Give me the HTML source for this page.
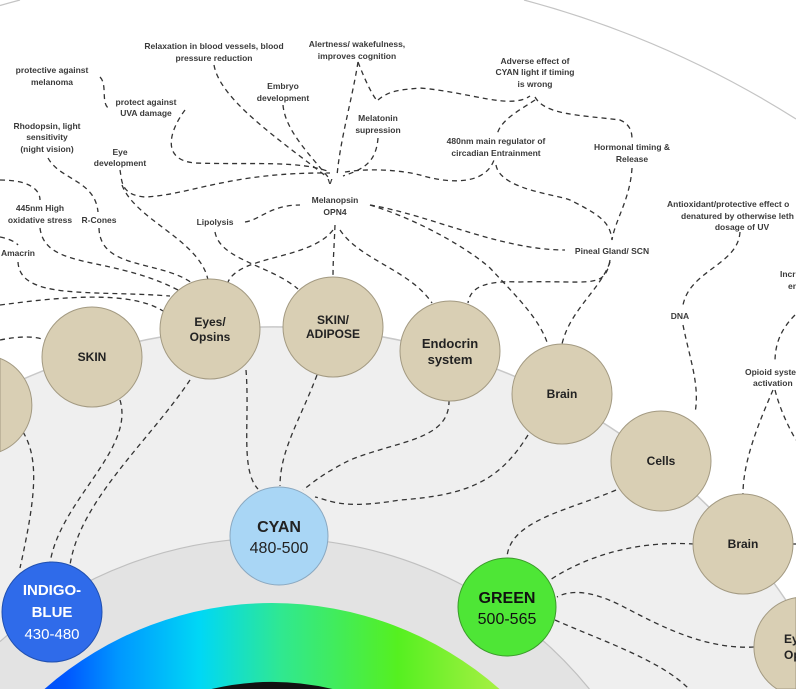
<!DOCTYPE html>
<html><head><meta charset="utf-8"><style>
html,body{margin:0;padding:0;background:#fff;width:796px;height:689px;overflow:hidden;}
svg{display:block;}
text{font-family:"Liberation Sans",sans-serif;}
.l{font-size:8.5px;font-weight:bold;fill:#3a3a3a;text-anchor:middle;}
.n{font-size:12px;font-weight:bold;fill:#222;text-anchor:middle;}
.d{fill:none;stroke:#333;stroke-width:1.3;stroke-dasharray:5 4;}
.nd{fill:#d9cfb4;stroke:#a39a82;stroke-width:1;}
</style></head><body>
<svg width="796" height="689" viewBox="0 0 796 689" xmlns="http://www.w3.org/2000/svg" style="overflow:hidden">
<defs>
<linearGradient id="wg" gradientUnits="userSpaceOnUse" x1="-20" y1="0" x2="560" y2="0">
<stop offset="0" stop-color="#0030e0"/>
<stop offset="0.15" stop-color="#0058ff"/>
<stop offset="0.24" stop-color="#0098ff"/>
<stop offset="0.38" stop-color="#00d8f5"/>
<stop offset="0.52" stop-color="#30e890"/>
<stop offset="0.72" stop-color="#55f020"/>
<stop offset="0.88" stop-color="#a0f040"/>
<stop offset="1" stop-color="#c0f050"/>
</linearGradient>
</defs>
<path d="M0 5.5 A980 980 0 0 1 20 0 M524 0 A980 980 0 0 1 796 119" fill="none" stroke="#c4c4c4" stroke-width="1.2"/>
<path d="M0 689 L0 389.8 A620 620 0 0 1 796 615.6 L796 689 Z" fill="#efefef"/>
<path d="M0 389.8 A620 620 0 0 1 796 615.6" fill="none" stroke="#c8c8c8" stroke-width="1.5"/>
<path d="M0 689 L0 641.6 A409 409 0 0 1 589.4 689 Z" fill="#e3e3e3"/>
<path d="M0 641.6 A409 409 0 0 1 589.4 689" fill="none" stroke="#c0c0c0" stroke-width="1.2"/>
<path d="M44.5 689 A344 344 0 0 1 499.5 689 Z" fill="url(#wg)"/>
<path d="M211.5 689 A265 265 0 0 1 332.5 689 Z" fill="#111"/>

<g class="d">
<path d="M214 65 C220 100 280 140 327 177"/>
<path d="M283 105 C285 130 310 155 328 177"/>
<path d="M358 62 C352 100 340 140 337 176"/>
<path d="M358 62 C365 80 372 95 378 102"/>
<path d="M378 138 C376 165 360 170 343 176"/>
<path d="M378 100 C390 90 400 90 420 88 C470 92 510 110 530 96"/>
<path d="M185 110 C170 130 160 160 195 163 C250 165 300 160 330 172"/>
<path d="M100 77 C108 85 100 105 110 109"/>
<path d="M120 170 C122 180 120 195 145 197 C190 195 230 172 330 173"/>
<path d="M345 172 C370 168 400 170 420 175 C450 184 485 185 494 160"/>
<path d="M535 100 C520 110 500 120 497 135"/>
<path d="M535 97 C545 115 580 115 620 120 C632 125 632 135 632 140"/>
<path d="M496 165 C500 190 560 195 570 200 C600 215 610 222 612 240"/>
<path d="M632 168 C630 200 615 220 612 240"/>
<path d="M370 205 C430 215 500 250 565 250"/>
<path d="M370 205 C420 220 470 250 490 268 C520 300 540 320 548 345"/>
<path d="M610 260 C605 290 590 280 520 282 C480 280 470 290 468 303"/>
<path d="M610 262 C600 290 570 310 562 344"/>
<path d="M335 225 C334 250 333 260 333 277"/>
<path d="M333 230 C310 260 240 255 228 282"/>
<path d="M340 230 C360 260 410 270 432 303"/>
<path d="M245 222 C260 220 270 205 300 205"/>
<path d="M215 232 C220 260 270 265 298 289"/>
<path d="M122 185 C135 220 200 240 208 280"/>
<path d="M48 158 C60 180 95 180 98 212"/>
<path d="M99 228 C100 270 160 260 192 283"/>
<path d="M40 228 C45 270 110 255 178 290"/>
<path d="M18 262 C20 300 90 290 170 296"/>
<path d="M0 180 C30 180 40 190 40 200"/>
<path d="M0 237 C15 240 18 245 18 245"/>
<path d="M0 305 C60 297 130 290 163 311"/>
<path d="M0 340 C20 336 35 336 45 340"/>
<path d="M740 232 C738 265 690 270 683 305"/>
<path d="M683 325 C690 360 700 385 695 413"/>
<path d="M795 315 C780 330 775 345 775 362"/>
<path d="M773 390 C760 420 743 460 743 494"/>
<path d="M775 390 C780 410 790 430 796 440"/>
<path d="M23 432 C40 460 35 500 20 568"/>
<path d="M120 400 C135 450 60 500 50 563"/>
<path d="M190 380 C150 440 80 500 70 565"/>
<path d="M246 370 C250 420 240 470 258 489"/>
<path d="M317 375 C300 420 280 450 280 486"/>
<path d="M449 400 C450 440 400 440 350 460 C320 475 310 485 303 490"/>
<path d="M528 435 C500 480 470 495 400 500 C340 510 330 500 315 497"/>
<path d="M616 490 C570 510 510 520 507 557"/>
<path d="M694 544 C630 540 580 560 550 580"/>
<path d="M754 647 C700 650 650 620 620 605 C590 590 570 590 557 597"/>
<path d="M555 620 C600 640 660 660 688 688"/>
<path d="M792 544 L796 544"/>
</g>
<text x="330" y="184" class="l" style="font-size:9px">v</text>

<path d="M0 358.4 A50 50 0 0 1 0 451.6 Z" class="nd"/>
<circle cx="92" cy="357" r="50" class="nd"/>
<circle cx="210" cy="329" r="50" class="nd"/>
<circle cx="333" cy="327" r="50" class="nd"/>
<circle cx="450" cy="351" r="50" class="nd"/>
<circle cx="562" cy="394" r="50" class="nd"/>
<circle cx="661" cy="461" r="50" class="nd"/>
<circle cx="743" cy="544" r="50" class="nd"/>
<path d="M796 597.6 A50 50 0 0 0 776.9 689 L796 689 Z" class="nd"/>
<text class="n" x="92" y="361">SKIN</text>
<text class="n" x="210" y="326">Eyes/</text><text class="n" x="210" y="341">Opsins</text>
<text class="n" x="333" y="324">SKIN/</text><text class="n" x="333" y="338">ADIPOSE</text>
<text class="n" x="450" y="348" style="font-size:13px">Endocrin</text><text class="n" x="450" y="364" style="font-size:13px">system</text>
<text class="n" x="562" y="398">Brain</text>
<text class="n" x="661" y="465">Cells</text>
<text class="n" x="743" y="548">Brain</text>
<text class="n" x="784" y="643" style="text-anchor:start">Ey</text><text class="n" x="784" y="659" style="text-anchor:start">Op</text>

<circle cx="52" cy="612" r="50" fill="#2f6bea" stroke="#2050b0"/>
<text x="52" y="595" style="font-size:15px;font-weight:bold;fill:#fff;text-anchor:middle">INDIGO-</text>
<text x="52" y="617" style="font-size:15px;font-weight:bold;fill:#fff;text-anchor:middle">BLUE</text>
<text x="52" y="639" style="font-size:15px;fill:#fff;text-anchor:middle">430-480</text>
<circle cx="279" cy="536" r="49" fill="#a9d6f5" stroke="#8aa8c0"/>
<text x="279" y="532" style="font-size:16px;font-weight:bold;fill:#222;text-anchor:middle">CYAN</text>
<text x="279" y="553" style="font-size:16px;fill:#222;text-anchor:middle">480-500</text>
<circle cx="507" cy="607" r="49" fill="#4ee636" stroke="#3a9a2a"/>
<text x="507" y="603" style="font-size:16px;font-weight:bold;fill:#111;text-anchor:middle">GREEN</text>
<text x="507" y="624" style="font-size:16px;fill:#111;text-anchor:middle">500-565</text>

<text class="l" x="214" y="49">Relaxation in blood vessels, blood</text><text class="l" x="214" y="61">pressure reduction</text>
<text class="l" x="357" y="47">Alertness/ wakefulness,</text><text class="l" x="357" y="59">improves cognition</text>
<text class="l" x="52" y="73">protective against</text><text class="l" x="52" y="85">melanoma</text>
<text class="l" x="146" y="105">protect against</text><text class="l" x="146" y="116">UVA damage</text>
<text class="l" x="283" y="89">Embryo</text><text class="l" x="283" y="101">development</text>
<text class="l" x="378" y="121">Melatonin</text><text class="l" x="378" y="133">supression</text>
<text class="l" x="47" y="129">Rhodopsin, light</text><text class="l" x="47" y="140">sensitivity</text><text class="l" x="47" y="152">(night vision)</text>
<text class="l" x="120" y="155">Eye</text><text class="l" x="120" y="166">development</text>
<text class="l" x="40" y="211">445nm High</text><text class="l" x="40" y="223">oxidative stress</text>
<text class="l" x="99" y="223">R-Cones</text>
<text class="l" x="215" y="225">Lipolysis</text>
<text class="l" x="335" y="203">Melanopsin</text><text class="l" x="335" y="215">OPN4</text>
<text class="l" x="18" y="256">Amacrin</text>
<text class="l" x="535" y="64">Adverse effect of</text><text class="l" x="535" y="75">CYAN light if timing</text><text class="l" x="535" y="87">is wrong</text>
<text class="l" x="496" y="144">480nm main regulator of</text><text class="l" x="496" y="156">circadian Entrainment</text>
<text class="l" x="632" y="150">Hormonal timing &amp;</text><text class="l" x="632" y="162">Release</text>
<text class="l" x="612" y="254">Pineal Gland/ SCN</text>
<text class="l" x="667" y="207" style="text-anchor:start">Antioxidant/protective effect o</text>
<text class="l" x="681" y="219" style="text-anchor:start">denatured by otherwise leth</text>
<text class="l" x="742" y="230">dosage of UV</text>
<text class="l" x="680" y="319">DNA</text>
<text class="l" x="780" y="277" style="text-anchor:start">Incr</text><text class="l" x="788" y="289" style="text-anchor:start">en</text>
<text class="l" x="745" y="375" style="text-anchor:start">Opioid syste</text><text class="l" x="753" y="386" style="text-anchor:start">activation</text>
</svg>
</body></html>
